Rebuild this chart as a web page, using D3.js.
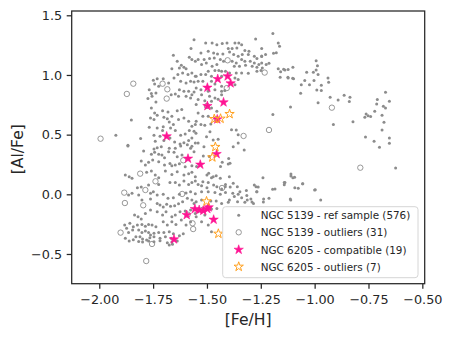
<!DOCTYPE html>
<html><head><meta charset="utf-8">
<script src="https://cdn.jsdelivr.net/npm/d3@7"></script>
<style>body{margin:0;background:#fff}svg{display:block}</style>
</head><body><svg id="c" width="455" height="341"></svg>
<script>
const xTicks=[-2.0,-1.75,-1.5,-1.25,-1.0,-0.75,-0.5];
const yTicks=[-0.5,0.0,0.5,1.0,1.5];
const legendLabels=["NGC 5139 - ref sample (576)","NGC 5139 - outliers (31)","NGC 6205 - compatible (19)","NGC 6205 - outliers (7)"];
const xLabel="[Fe/H]", yLabel="[Al/Fe]";

const refSample=[
[-1.560,1.296],[-1.574,1.221],[-1.656,1.165],[-1.638,1.115],[-1.619,1.081],[-1.607,1.064],[-1.597,1.053],[-1.628,1.059],[-1.663,1.053],[-1.582,1.148],[-1.570,1.129],[-1.554,1.115],[-1.613,1.017],[-1.588,1.003],[-1.570,1.017],[-1.554,0.989],[-1.635,1.003],[-1.653,0.975],[-1.622,0.947],[-1.597,0.933],[-1.576,0.947],[-1.560,0.942],[-1.749,0.956],[-1.731,0.969],[-1.703,0.969],[-1.743,0.925],[-1.724,0.905],[-1.678,0.933],[-1.768,0.877],[-1.758,0.844],[-1.737,0.849],[-1.774,0.802],[-1.755,0.821],[-1.628,0.877],[-1.607,0.863],[-1.585,0.863],[-1.570,0.835],[-1.597,0.821],[-1.576,0.808],[-1.560,0.858],[-1.666,0.835],[-1.647,0.841],[-1.632,0.821],[-1.737,0.774],[-1.706,0.701],[-1.758,0.724],[-1.743,0.682],[-1.731,0.662],[-1.762,0.640],[-1.746,0.626],[-1.700,0.646],[-1.681,0.690],[-1.638,0.701],[-1.617,0.710],[-1.663,0.654],[-1.684,0.634],[-1.675,0.606],[-1.656,0.584],[-1.632,0.626],[-1.607,0.640],[-1.585,0.612],[-1.570,0.570],[-1.554,0.584],[-1.560,0.528],[-1.582,0.534],[-1.601,0.506],[-1.622,0.495],[-1.647,0.534],[-1.669,0.556],[-1.703,0.567],[-1.731,0.556],[-1.768,0.562],[-1.706,0.534],[-1.718,0.486],[-1.746,0.495],[-1.740,0.444],[-1.700,0.450],[-1.672,0.472],[-1.650,0.439],[-1.625,0.422],[-1.607,0.433],[-1.585,0.450],[-1.570,0.472],[-1.554,0.430],[-1.851,0.623],[-1.923,0.495],[-1.808,0.467],[-1.867,0.411],[-1.591,0.416],[-1.570,0.402],
[-1.194,1.347],[-1.274,1.302],[-1.506,1.268],[-1.476,1.268],[-1.454,1.254],[-1.429,1.263],[-1.407,1.268],[-1.370,1.268],[-1.352,1.268],[-1.339,1.254],[-1.401,1.221],[-1.383,1.221],[-1.361,1.226],[-1.324,1.204],[-1.305,1.198],[-1.246,1.221],[-1.169,1.268],[-1.163,1.240],[-1.178,1.187],[-1.528,1.185],[-1.494,1.198],[-1.469,1.185],[-1.451,1.176],[-1.426,1.176],[-1.395,1.193],[-1.376,1.171],[-1.355,1.157],[-1.336,1.171],[-1.308,1.171],[-1.280,1.157],[-1.268,1.137],[-1.246,1.154],[-1.228,1.171],[-1.541,1.129],[-1.513,1.129],[-1.488,1.137],[-1.466,1.143],[-1.438,1.129],[-1.423,1.115],[-1.383,1.115],[-1.364,1.101],[-1.339,1.129],[-1.324,1.115],[-1.299,1.115],[-1.280,1.101],[-1.259,1.087],[-1.246,1.101],[-1.225,1.087],[-1.525,1.087],[-1.503,1.101],[-1.476,1.073],[-1.454,1.087],[-1.373,1.073],[-1.349,1.073],[-1.321,1.081],[-1.290,1.073],[-1.268,1.064],[-1.243,1.059],[-1.169,1.053],[-1.144,1.048],[-1.123,1.045],[-1.101,1.064],[-1.494,1.031],[-1.463,1.037],[-1.445,1.037],[-1.432,1.031],[-1.414,1.031],[-1.395,1.017],[-1.364,1.017],[-1.339,1.017],[-1.308,1.014],[-1.268,1.031],[-1.249,1.037],[-1.550,0.989],[-1.528,1.003],[-1.506,1.003],[-1.479,0.989],[-1.432,0.989],[-1.370,0.975],[-1.355,0.961],[-1.160,0.981],[-1.123,0.975],[-1.098,0.969],[-1.541,0.947],[-1.519,0.947],[-1.479,0.947],[-1.463,0.925],[-1.432,0.905],[-1.370,0.919],[-1.550,0.891],[-1.528,0.877],[-1.494,0.863],[-1.463,0.877],[-1.432,0.863],[-1.417,0.869],[-1.525,0.835],[-1.488,0.821],[-1.463,0.808],[-1.432,0.835],[-1.541,0.794],[-1.510,0.785],[-1.479,0.780],[-1.448,0.796],[-1.550,0.752],[-1.479,0.724],[-1.454,0.696],[-1.541,0.682],[-1.519,0.654],[-1.494,0.654],[-1.550,0.612],[-1.528,0.584],[-1.510,0.578],[-1.482,0.590],[-1.386,0.542],[-1.364,0.539],[-1.355,0.500],[-1.448,0.461],[-1.355,0.430],[-1.541,0.430],[-1.112,0.732],[-1.194,0.668],
[-1.212,1.098],[-1.158,1.028],[-1.138,1.041],[-1.124,0.980],[-1.102,0.972],[-1.246,1.159],[-1.191,1.182],
[-0.993,1.120],[-0.987,1.078],[-0.993,1.042],[-1.006,1.023],[-1.037,1.023],[-0.984,1.003],[-1.046,0.953],[-1.062,0.919],[-1.003,0.953],[-1.024,0.919],[-0.969,0.914],[-0.938,0.975],[-0.935,0.939],[-1.065,0.847],[-0.990,0.875],[-0.969,0.869],[-0.928,0.813],[-0.891,0.791],[-0.863,0.830],[-0.836,0.813],[-0.839,0.777],[-0.984,0.768],[-0.822,0.609],[-0.913,0.584],[-0.671,0.855],[-0.653,0.780],[-0.709,0.794],[-0.712,0.757],[-0.681,0.738],[-0.671,0.724],[-0.721,0.696],[-0.761,0.673],[-0.752,0.659],[-0.740,0.651],[-0.767,0.646],[-0.687,0.662],[-0.678,0.604],[-0.687,0.539],[-0.764,0.481],[-0.724,0.444],[-0.653,0.472],[-0.653,0.428],[-0.699,0.394],[-0.624,0.221],
[-1.867,0.405],[-1.794,0.363],[-1.746,0.379],[-1.731,0.391],[-1.712,0.399],[-1.675,0.385],[-1.647,0.385],[-1.622,0.405],[-1.758,0.335],[-1.743,0.352],[-1.724,0.335],[-1.709,0.329],[-1.697,0.307],[-1.678,0.357],[-1.653,0.352],[-1.638,0.315],[-1.616,0.329],[-1.576,0.385],[-1.560,0.357],[-1.805,0.279],[-1.786,0.245],[-1.771,0.268],[-1.752,0.287],[-1.724,0.273],[-1.697,0.245],[-1.672,0.259],[-1.663,0.240],[-1.647,0.245],[-1.628,0.257],[-1.601,0.231],[-1.570,0.240],[-1.879,0.162],[-1.861,0.148],[-1.848,0.134],[-1.780,0.184],[-1.758,0.195],[-1.740,0.162],[-1.724,0.139],[-1.693,0.195],[-1.663,0.167],[-1.638,0.190],[-1.607,0.162],[-1.585,0.173],[-1.570,0.184],[-1.554,0.148],[-1.823,0.055],[-1.805,0.061],[-1.771,0.078],[-1.724,0.083],[-1.672,0.100],[-1.647,0.100],[-1.628,0.078],[-1.607,0.111],[-1.585,0.083],[-1.570,0.100],[-1.554,0.111],[-1.864,-0.006],[-1.848,0.008],[-1.817,-0.006],[-1.762,0.008],[-1.749,0.022],[-1.731,-0.006],[-1.703,0.000],[-1.681,-0.034],[-1.656,-0.028],[-1.628,0.000],[-1.597,0.011],[-1.576,0.022],[-1.554,0.005],[-1.802,-0.048],[-1.762,-0.039],[-1.731,-0.076],[-1.718,-0.090],[-1.703,-0.106],[-1.687,-0.084],[-1.669,-0.101],[-1.650,-0.095],[-1.632,-0.079],[-1.613,-0.062],[-1.591,-0.034],[-1.570,-0.048],[-1.560,-0.076],[-1.836,-0.174],[-1.820,-0.187],[-1.805,-0.207],[-1.786,-0.160],[-1.762,-0.132],[-1.731,-0.146],[-1.706,-0.174],[-1.690,-0.146],[-1.663,-0.187],[-1.647,-0.174],[-1.625,-0.146],[-1.601,-0.140],[-1.576,-0.132],[-1.554,-0.160],[-1.882,-0.257],[-1.858,-0.243],[-1.842,-0.271],[-1.823,-0.257],[-1.802,-0.252],[-1.786,-0.268],[-1.771,-0.252],[-1.755,-0.257],[-1.737,-0.271],[-1.703,-0.229],[-1.684,-0.257],[-1.663,-0.229],[-1.644,-0.252],[-1.619,-0.215],[-1.597,-0.257],[-1.576,-0.229],[-1.873,-0.285],[-1.864,-0.319],[-1.845,-0.299],[-1.817,-0.299],[-1.802,-0.319],[-1.786,-0.308],[-1.771,-0.319],[-1.762,-0.341],[-1.746,-0.327],[-1.724,-0.319],[-1.700,-0.319],[-1.675,-0.313],[-1.656,-0.330],[-1.628,-0.347],[-1.610,-0.330],[-1.830,-0.355],[-1.811,-0.355],[-1.799,-0.375],[-1.780,-0.383],[-1.765,-0.363],[-1.746,-0.355],[-1.718,-0.369],[-1.693,-0.355],[-1.666,-0.369],[-1.879,-0.369],[-1.861,-0.391],[-1.842,-0.380],[-1.817,-0.395],[-1.799,-0.400],[-1.771,-0.392],[-1.746,-0.398],[-1.718,-0.390],[-1.684,-0.405],[-1.663,-0.400],[-1.638,-0.391],[-1.675,-0.425],[-1.660,-0.418],
[-1.327,0.371],[-1.429,0.268],[-1.401,0.254],[-1.500,0.162],[-1.457,0.156],[-1.479,0.139],[-1.438,0.134],[-1.519,0.106],[-1.494,0.100],[-1.541,0.083],[-1.525,0.072],[-1.500,0.055],[-1.469,0.078],[-1.454,0.064],[-1.432,0.044],[-1.414,0.083],[-1.392,0.061],[-1.525,0.022],[-1.494,0.022],[-1.463,0.016],[-1.438,0.000],[-1.414,0.016],[-1.380,0.008],[-1.355,0.000],[-1.339,-0.028],[-1.315,-0.011],[-1.296,-0.039],[-1.268,0.022],[-1.262,0.061],[-1.280,0.078],[-1.240,0.139],[-1.184,0.044],[-1.138,0.100],[-1.110,0.153],[-1.101,0.139],[-1.092,0.055],[-1.076,0.050],[-1.113,-0.039],[-1.237,-0.039],[-1.212,-0.034],[-1.550,-0.062],[-1.525,-0.048],[-1.482,-0.056],[-1.457,-0.056],[-1.432,-0.076],[-1.401,-0.067],[-1.358,-0.062],[-1.324,-0.067],[-1.284,-0.076],[-1.541,-0.146],[-1.510,-0.174],[-1.479,-0.123],[-1.454,-0.118],[-1.550,-0.187],[-1.525,-0.229],[-1.494,-0.257],[-1.479,-0.313],
[-1.110,0.170],[-1.093,0.142],[-1.141,0.098],[-1.141,0.080],[-1.056,0.089],[-1.111,-0.047],[-1.000,0.036],[-0.972,-0.047],[-1.195,0.042],[-1.272,0.064],[-1.269,0.022],[-1.317,0.031],[-1.238,-0.064],[-1.055,0.089],[-0.997,0.039],
[-1.393,0.260],[-1.396,0.148],[-1.378,0.092],[-1.359,0.064],[-1.347,0.022],[-1.373,-0.019],[-1.396,-0.047],[-1.313,-0.047],[-1.291,-0.064],
[-1.551,0.511],[-1.514,0.399],[-1.502,0.483],[-1.486,0.525],[-1.471,0.455],[-1.517,0.321],[-1.548,0.232],[-1.489,0.316],[-1.492,0.176],[-1.437,0.232],[-1.471,0.148],[-1.415,0.064],[-1.378,0.399],[-1.399,0.300]
];
const outliers5139=[[-1.994,0.466],[-1.872,0.841],[-1.842,0.927],[-1.706,0.927],[-1.684,0.880],[-1.687,0.802],[-1.404,1.123],[-1.232,1.020],[-0.920,0.726],[-1.212,0.539],[-1.330,0.489],[-0.788,0.223],[-1.810,0.173],[-1.739,0.109],[-1.610,0.285],[-1.884,0.014],[-1.881,-0.073],[-1.786,0.036],[-1.796,-0.092],[-1.901,-0.321],[-1.755,-0.416],[-1.782,-0.559],[-1.615,0.003],[-1.567,-0.243],[-1.564,-0.291],[-1.430,0.053],[-1.408,0.890],[-1.520,-0.130],[-1.455,0.630],[-1.500,0.740],[-1.590,-0.170]];
const compatible6205=[[-1.404,0.989],[-1.450,0.966],[-1.390,0.930],[-1.498,0.894],[-1.423,0.771],[-1.498,0.740],[-1.452,0.628],[-1.687,0.486],[-1.588,0.299],[-1.455,0.338],[-1.531,0.249],[-1.556,-0.123],[-1.536,-0.131],[-1.517,-0.137],[-1.498,-0.123],[-1.492,-0.109],[-1.594,-0.173],[-1.469,-0.212],[-1.653,-0.377]];
const outliers6205=[[-1.395,0.673],[-1.466,0.631],[-1.437,0.634],[-1.461,0.397],[-1.475,0.310],[-1.502,-0.059],[-1.447,-0.330]];

const ink="#262626", font="'DejaVu Sans', sans-serif";
const svg=d3.select("#c");
const M={l:71.7,r:424.7,t:11,b:283.7};
const x=d3.scaleLinear().domain([-2.128,-0.489]).range([M.l,M.r]);
const y=d3.scaleLinear().domain([-0.749,1.536]).range([M.b,M.t]);

// points
const g=svg.append("g");
g.selectAll(".ref").data(refSample).join("circle").attr("cx",d=>x(d[0])).attr("cy",d=>y(d[1])).attr("r",1.5).attr("fill","#8c8c8c");
g.selectAll(".out").data(outliers5139).join("circle").attr("cx",d=>x(d[0])).attr("cy",d=>y(d[1])).attr("r",2.7).attr("fill","none").attr("stroke","#8c8c8c").attr("stroke-width",0.9);
const star=d3.symbol().type(d3.symbolStar).size(27);
g.selectAll(".cmp").data(compatible6205).join("path").attr("d",star).attr("transform",d=>`translate(${x(d[0])},${y(d[1])})`).attr("fill","#ff1493").attr("stroke","#ff1493").attr("stroke-width",0.6);
g.selectAll(".o62").data(outliers6205).join("path").attr("d",star).attr("transform",d=>`translate(${x(d[0])},${y(d[1])})`).attr("fill","none").attr("stroke","#ffa01e").attr("stroke-width",1);

// axes
const fmtX=d=>d3.format(".2f")(d), fmtY=d=>d3.format(".1f")(d);
const ax=svg.append("g").attr("transform",`translate(0,${M.b})`).call(d3.axisBottom(x).tickValues(xTicks).tickFormat(fmtX).tickSize(5).tickPadding(6));
const ay=svg.append("g").attr("transform",`translate(${M.l},0)`).call(d3.axisLeft(y).tickValues(yTicks).tickFormat(fmtY).tickSize(5).tickPadding(4.5));
[ax,ay].forEach(a=>{a.select(".domain").remove();a.selectAll("line").attr("stroke",ink).attr("stroke-width",1.25);a.selectAll("text").attr("fill",ink).style("font-family",font).style("font-size","12.8px");});
svg.append("rect").attr("x",M.l).attr("y",M.t).attr("width",M.r-M.l).attr("height",M.b-M.t).attr("fill","none").attr("stroke",ink).attr("stroke-width",1.25);

svg.append("text").attr("x",(M.l+M.r)/2).attr("y",325).attr("text-anchor","middle").attr("fill",ink).style("font-family",font).style("font-size","15.6px").text(xLabel);
svg.append("text").attr("transform","translate(23,149.2) rotate(-90)").attr("text-anchor","middle").attr("fill",ink).style("font-family",font).style("font-size","15.6px").text(yLabel);

// legend
const L=svg.append("g");
L.append("rect").attr("x",222.7).attr("y",206.7).attr("width",195.3).attr("height",71).attr("rx",3).attr("fill","#fff").attr("fill-opacity",0.8).attr("stroke","#d6d6d6").attr("stroke-width",1);
const rows=[215.3,232.3,249.7,266.7];
const lx=238.7;
L.append("circle").attr("cx",lx).attr("cy",rows[0]).attr("r",1.5).attr("fill","#8c8c8c");
L.append("circle").attr("cx",lx).attr("cy",rows[1]).attr("r",2.7).attr("fill","none").attr("stroke","#8c8c8c").attr("stroke-width",0.9);
L.append("path").attr("d",star).attr("transform",`translate(${lx},${rows[2]})`).attr("fill","#ff1493").attr("stroke","#ff1493").attr("stroke-width",0.6);
L.append("path").attr("d",star).attr("transform",`translate(${lx},${rows[3]})`).attr("fill","none").attr("stroke","#ffa01e").attr("stroke-width",1);
L.selectAll(".lt").data(legendLabels).join("text").attr("x",260.7).attr("y",(d,i)=>rows[i]+3.8).attr("fill",ink).style("font-family",font).style("font-size","10.4px").text(d=>d);
</script></body></html>
